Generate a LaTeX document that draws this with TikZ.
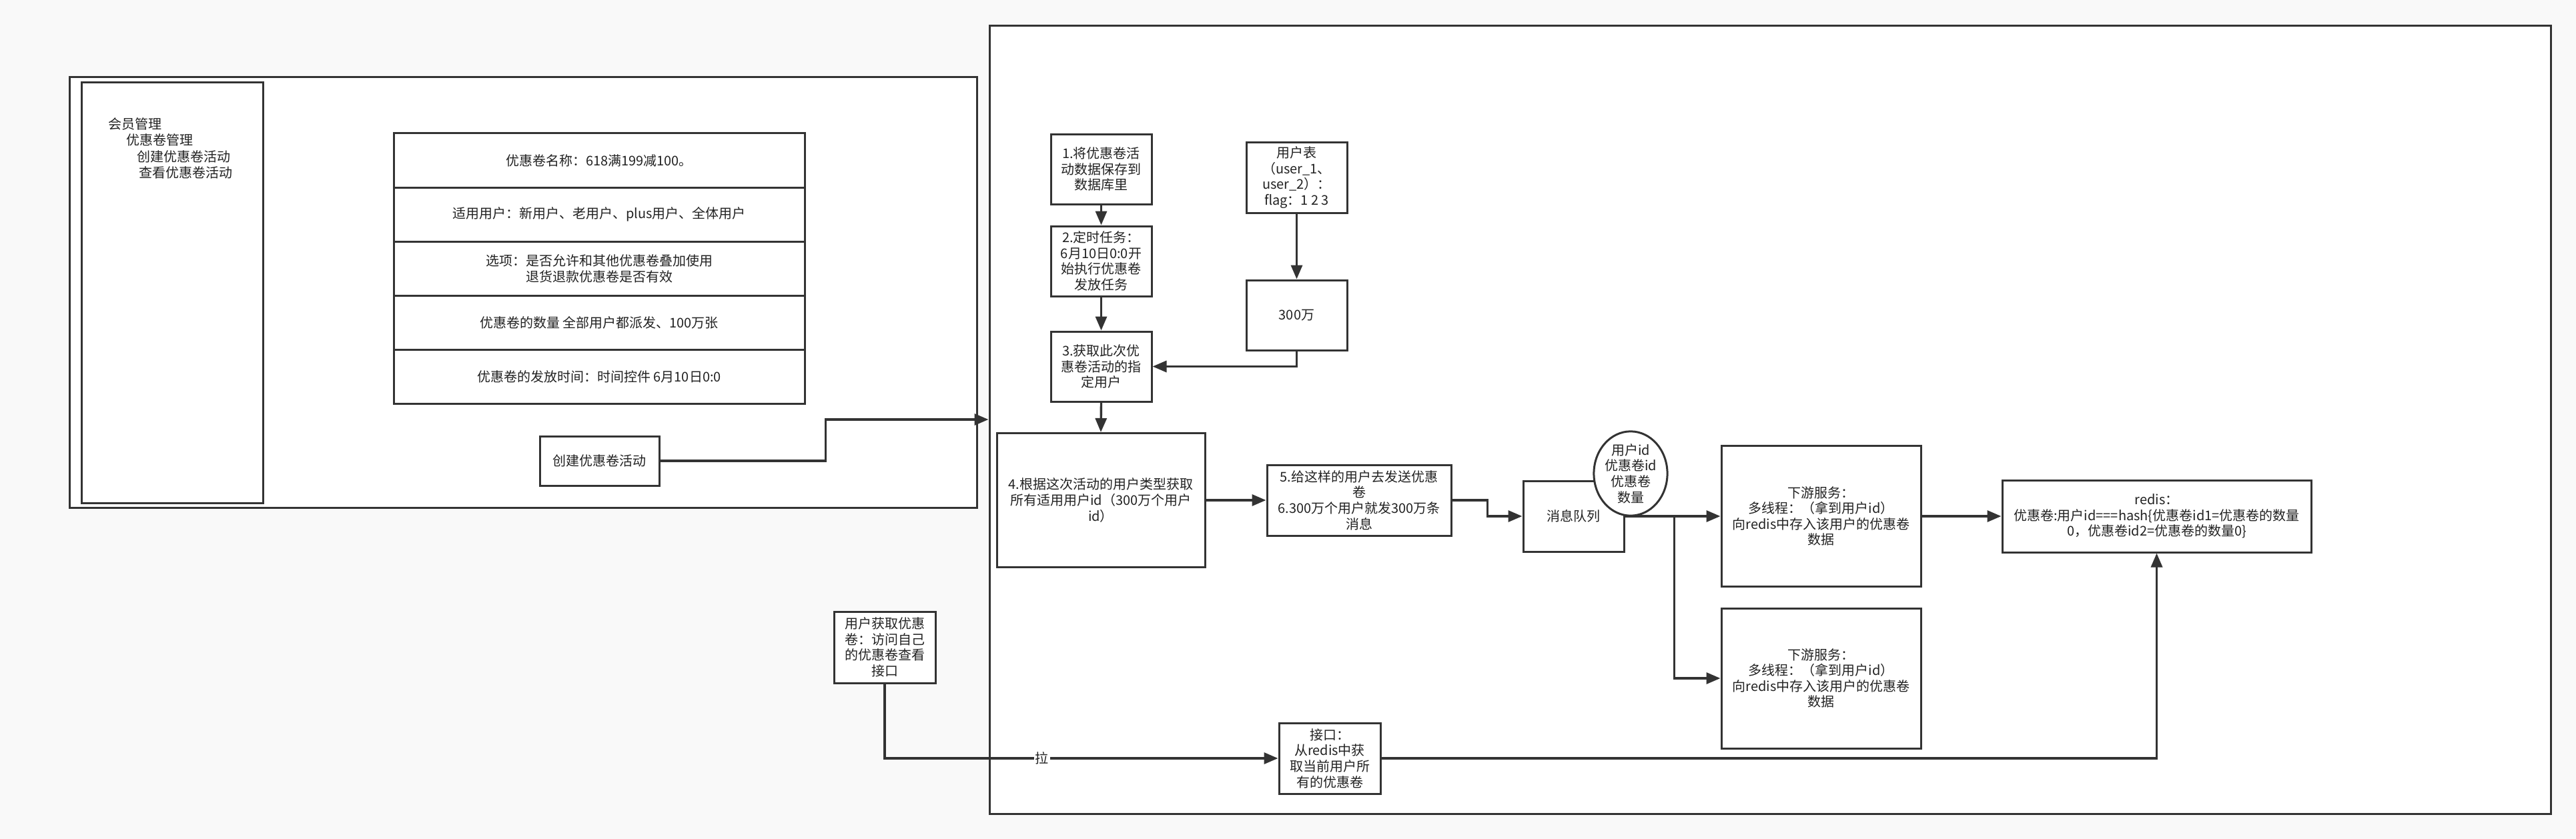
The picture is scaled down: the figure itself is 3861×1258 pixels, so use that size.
\documentclass[tikz,border=0pt]{standalone}
\usepackage{fontspec}
\setmainfont{Noto Sans CJK SC}
\usetikzlibrary{arrows.meta,shapes.geometric}
\definecolor{bgc}{RGB}{249,249,249}
\definecolor{ln}{RGB}{51,51,51}
\definecolor{tx}{RGB}{34,34,34}
\begin{document}
\begin{tikzpicture}[x=0.5pt,y=-0.5pt,
  font=\fontsize{10pt}{11.8pt}\selectfont,
  box/.style={draw=ln, line width=1.5pt, fill=white, align=center, inner sep=2pt, text=tx},
  sz/.style 2 args={minimum width=#1*0.5pt, minimum height=#2*0.5pt},
  arr/.style={draw=ln, line width=1.7pt, -{Triangle[length=10.5pt,width=8.5pt]}},
  plain/.style={draw=ln, line width=1.7pt}]
\fill[bgc] (0,0) rectangle (3861,1258);
\useasboundingbox (0,0) rectangle (3861,1258);

% left panel
\node[box, sz={1360}{646}] (leftpanel) at (784,438) {};
\node[box, sz={272}{631}] (sidebar) at (258,438.5) {};
\node[anchor=north west, align=left, inner sep=0pt, text=tx, font=\fontsize{10pt}{12.25pt}\selectfont] (menu) at (162,176)
  {会员管理\\\hspace*{13.5pt}优惠卷管理\\\hspace*{21.5pt}创建优惠卷活动\\\hspace*{23pt}查看优惠卷活动};
\node[box, sz={616}{81.2}] (r1) at (898,240.5) {优惠卷名称：618满199减100。};
\node[box, sz={616}{81.2}] (r2) at (898,321.7) {适用用户：新用户、老用户、plus用户、全体用户};
\node[box, sz={616}{81.2}] (r3) at (898,402.9) {选项：是否允许和其他优惠卷叠加使用\\退货退款优惠卷是否有效};
\node[box, sz={616}{81.2}] (r4) at (898,484.1) {优惠卷的数量 全部用户都派发、100万张};
\node[box, sz={616}{81.2}] (r5) at (898,565.3) {优惠卷的发放时间：时间控件 6月10日0:0};
\node[box, sz={179}{74}] (btn) at (898.5,691) {创建优惠卷活动};

% right panel
\node[box, sz={2340}{1182}] (rightpanel) at (2653,629) {};
\node[box, sz={151}{105}] (b1) at (1650.5,253.5) {1.将优惠卷活\\动数据保存到\\数据库里};
\node[box, sz={151}{105}] (b2) at (1650.5,391.5) {2.定时任务：\\6月10日0:0开\\始执行优惠卷\\发放任务};
\node[box, sz={151}{105}] (b3) at (1650.5,549.5) {3.获取此次优\\惠卷活动的指\\定用户};
\node[box, sz={312}{201}] (b4) at (1650,750) {4.根据这次活动的用户类型获取\\所有适用用户id（300万个用户\\id）};
\node[box, sz={151}{106}] (users) at (1943.5,266) {用户表\\（user\_1、\\user\_2）：\\flag：1 2 3};
\node[box, sz={151}{105}] (wan) at (1943.5,472.5) {300万};
\node[box, sz={276}{106}] (b5) at (2037,750) {5.给这样的用户去发送优惠\\卷\\6.300万个用户就发300万条\\消息};
\node[box, sz={151}{106}] (mq) at (2358.5,774) {消息队列};
\node[box, ellipse, inner sep=0pt, sz={104}{107}] (msg) at (2444,710) {用户id\\优惠卷id\\优惠卷\\数量};
\node[box, sz={299}{211}] (ds1) at (2729.5,774) {下游服务：\\多线程：（拿到用户id）\\向redis中存入该用户的优惠卷\\数据};
\node[box, sz={299}{210}] (ds2) at (2729.5,1017) {下游服务：\\多线程：（拿到用户id）\\向redis中存入该用户的优惠卷\\数据};
\node[box, sz={463}{108}] (redis) at (3232.5,774) {redis：\\优惠卷:用户id===hash\{优惠卷id1=优惠卷的数量\\0，优惠卷id2=优惠卷的数量0\}};
\node[box, sz={152}{107}] (userget) at (1326,970.5) {用户获取优惠\\卷：访问自己\\的优惠卷查看\\接口};
\node[box, sz={152}{106}] (api) at (1993,1137) {接口：\\从redis中获\\取当前用户所\\有的优惠卷};

% connectors
\draw[arr] (btn.east) -- ++(248,0) |- (rightpanel.west);
\draw[arr] (b1.south) -- (b2.north);
\draw[arr] (b2.south) -- (b3.north);
\draw[arr] (b3.south) -- (b4.north);
\draw[arr] (users.south) -- (wan.north);
\draw[arr] (wan.south) |- (b3.east);
\draw[arr] (b4.east) -- (b5.west);
\draw[arr] (b5.east) -- ++(53,0) |- (mq.west);
\draw[arr] (mq.east) -- (ds1.west);
\draw[arr] (mq.east) ++(74,0) |- (ds2.west);
\draw[arr] (ds1.east) -- (redis.west);
\draw[arr] (userget.south) |- node[pos=0.70, fill=white, inner sep=1pt, text=tx] (pull) {拉} (api.west);
\draw[arr] (api.east) -| (redis.south);
\end{tikzpicture}
\end{document}
